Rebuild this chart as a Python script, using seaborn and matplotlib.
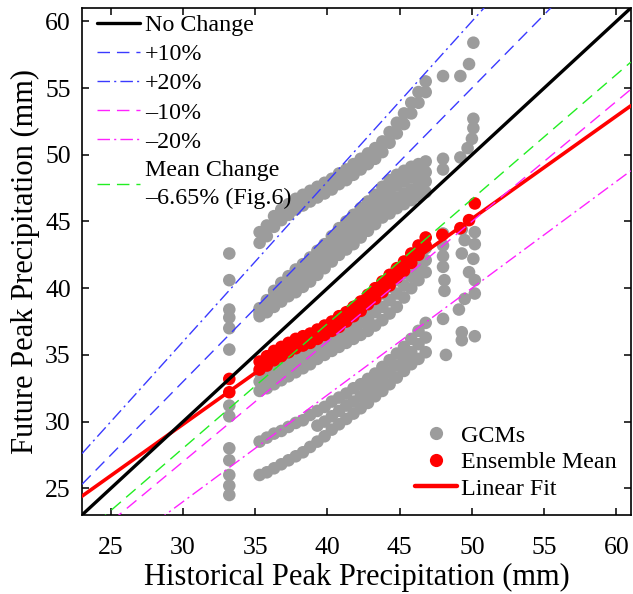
import numpy as np
import pandas as pd
import matplotlib
matplotlib.use('Agg')
import matplotlib.pyplot as plt
from matplotlib.lines import Line2D
import seaborn as sns

sns.set_style('ticks')
plt.rcParams['font.family'] = ['Liberation Serif', 'DejaVu Serif']
for key in ['text.color', 'axes.labelcolor', 'xtick.color', 'ytick.color', 'axes.edgecolor']:
    plt.rcParams[key] = 'black'

# %% data

# historical value grid shared by the GCM bands (mm)
hist_grid = [35.3, 35.8, 36.3, 36.8, 37.3, 37.8, 38.3, 38.8, 39.3, 39.8, 40.3, 40.8,
             41.3, 41.8, 42.3, 42.8, 43.3, 43.8, 44.3, 44.8, 45.3, 45.8, 46.3, 46.8]

# wet GCMs
wet_hi = [44.2, 44.7, 45.4, 45.9, 46.3, 46.7, 47.0, 47.3, 47.6, 47.9, 48.2, 48.6,
          48.9, 49.3, 49.7, 50.1, 50.5, 51.0, 51.7, 52.4, 53.1, 53.9, 54.7, 55.5]
wet_lo = [43.4, 43.9, 44.6, 45.1, 45.5, 45.9, 46.2, 46.5, 46.8, 47.1, 47.4, 47.8,
          48.1, 48.5, 48.9, 49.3, 49.7, 50.2, 50.9, 51.6, 52.3, 53.1, 53.9, 54.7]
# moderate GCMs
mid_1 = [38.5, 39.1, 39.8, 40.4, 40.9, 41.4, 41.8, 42.3, 42.8, 43.3, 43.9, 44.5,
         45.0, 45.5, 46.0, 46.5, 47.0, 47.6, 48.1, 48.5, 48.8, 49.1, 49.3, 49.5]
mid_2 = [38.3, 38.8, 39.4, 39.9, 40.4, 40.8, 41.2, 41.7, 42.2, 42.7, 43.3, 43.8,
         44.3, 44.8, 45.3, 45.8, 46.3, 46.8, 47.3, 47.7, 48.0, 48.3, 48.5, 48.7]
mid_3 = [38.1, 38.5, 39.0, 39.5, 39.9, 40.3, 40.7, 41.1, 41.6, 42.1, 42.6, 43.2,
         43.6, 44.0, 44.5, 45.0, 45.5, 46.1, 46.4, 46.8, 47.1, 47.4, 47.7, 48.0]
mid_4 = [37.9, 38.2, 38.6, 39.0, 39.4, 39.7, 40.1, 40.5, 41.0, 41.5, 42.0, 42.5,
         42.9, 43.3, 43.8, 44.3, 44.8, 45.3, 45.6, 46.0, 46.3, 46.6, 46.9, 47.2]
# dry GCMs
dry_hi = [33.7, 34.0, 34.4, 34.7, 35.0, 35.3, 35.6, 35.8, 36.0, 36.3, 36.6, 37.0,
          37.4, 37.8, 38.2, 38.6, 39.1, 39.6, 40.1, 40.6, 41.1, 41.7, 42.4, 43.0]
dry_mid = [33.0, 33.3, 33.6, 33.9, 34.2, 34.5, 34.8, 35.1, 35.4, 35.7, 36.0, 36.3,
           36.7, 37.0, 37.4, 37.7, 38.2, 38.6, 39.1, 39.6, 40.2, 40.9, 41.5, 42.1]
dry_lo = [32.3, 32.5, 32.8, 33.1, 33.4, 33.7, 34.0, 34.3, 34.7, 35.0, 35.3, 35.6,
          35.9, 36.2, 36.5, 36.8, 37.2, 37.6, 38.1, 38.6, 39.3, 40.0, 40.6, 41.2]
# very dry GCMs
vdry_hi = [28.5, 28.8, 29.1, 29.3, 29.6, 29.9, 30.1, 30.5, 30.8, 31.1, 31.5, 31.8,
           32.1, 32.5, 32.8, 33.2, 33.6, 34.1, 34.6, 35.1, 35.6, 36.2, 36.8, 37.4]
vdry_mid = [None, None, None, None, None, None, None, None, 29.7, 30.0, 30.4, 30.8,
            31.2, 31.5, 31.9, 32.3, 32.8, 33.2, 33.7, 34.2, 34.7, 35.2, 35.8, 36.3]
vdry_lo = [26.0, 26.2, 26.5, 26.8, 27.1, 27.4, 27.7, 28.1, 28.5, 28.9, 29.4, 29.8,
           30.2, 30.6, 31.0, 31.4, 31.9, 32.3, 32.8, 33.3, 33.8, 34.3, 34.7, 35.2]

# single station at 33.2 mm
col33_hist = 33.2
col33_future = [42.6, 40.6, 38.4, 37.8, 37.0, 35.4, 31.2, 30.4, 28.0, 27.1, 26.0, 25.2, 24.5]

# scattered stations on the right
extra_hist = [48.0, 49.2, 49.8, 50.1, 50.1, 50.1, 50.0, 49.7, 49.2, 48.0, 48.0,
              48.0, 48.0, 48.0, 48.0, 48.1, 48.1, 49.3, 49.5, 49.3, 50.2, 50.2, 50.1, 49.8,
              50.2, 50.2, 49.5, 49.1, 48.0, 49.3, 50.2, 49.3, 48.2]
extra_future = [55.9, 55.9, 56.8, 58.4, 52.7, 52.0, 51.2, 50.5, 49.8, 49.7, 48.9,
                44.1, 43.2, 42.4, 41.6, 40.6, 39.8, 44.4, 43.6, 42.6, 44.2, 43.3, 42.2, 41.2,
                40.6, 39.6, 39.2, 38.4, 37.7, 36.7, 36.4, 36.1, 35.0]

# ensemble mean
ens_hi = [34.5, 34.9, 35.3, 35.6, 35.9, 36.2, 36.4, 36.6, 36.9, 37.2, 37.5, 37.9,
          38.2, 38.6, 39.0, 39.5, 40.0, 40.5, 41.0, 41.5, 42.0, 42.6, 43.2, 43.8]
ens_lo = [33.9, 34.2, 34.6, 34.9, 35.2, 35.5, 35.7, 35.9, 36.2, 36.5, 36.8, 37.1,
          37.5, 37.9, 38.3, 38.8, 39.2, 39.7, 40.2, 40.8, 41.3, 41.9, 42.5, 43.2]
ens_extra_hist = [33.2, 33.2, 47.95, 49.2, 49.8, 50.2]
ens_extra_future = [33.2, 32.2, 44.0, 44.5, 45.1, 46.35]

# linear fit of ensemble mean (slope, intercept)
fit_coef = (0.77, 6.7)

# reference change lines
ref_labels = ['No Change', '+10%', '+20%', '\u201310%', '\u201320%', 'Mean Change\n\u20136.65% (Fig.6)']
ref_factors = [1.0, 1.10, 1.20, 0.90, 0.80, 1 - 0.0665]

# %% frames

gcm_bands = [wet_hi, wet_lo, mid_1, mid_2, mid_3, mid_4, dry_hi, dry_mid, dry_lo,
             vdry_hi, vdry_mid, vdry_lo]
parts = [pd.DataFrame({'hist': hist_grid, 'future': b}) for b in gcm_bands]
parts.append(pd.DataFrame({'hist': col33_hist, 'future': col33_future}))
parts.append(pd.DataFrame({'hist': extra_hist, 'future': extra_future}))
gcm = pd.concat(parts, ignore_index=True).astype(float).dropna()

ens = pd.concat([pd.DataFrame({'hist': hist_grid, 'future': ens_hi}),
                 pd.DataFrame({'hist': hist_grid, 'future': ens_lo}),
                 pd.DataFrame({'hist': ens_extra_hist, 'future': ens_extra_future})],
                ignore_index=True)

# %% plot

xlim = (23, 61)
ylim = (23, 61)

fig = plt.figure(figsize=(6.33, 5.94), dpi=100)
ax = fig.add_axes([0.1295, 0.133, 0.867, 0.8535])

gray = '#9c9c9c'
sns.scatterplot(data=gcm, x='hist', y='future', color=gray, s=82, edgecolor='none',
                linewidth=0, ax=ax, legend=False, zorder=2)
sns.scatterplot(data=ens, x='hist', y='future', color='red', s=82, edgecolor='none',
                linewidth=0, ax=ax, legend=False, zorder=3)

line_x = np.array(xlim, dtype=float)
fit_line, = ax.plot(line_x, fit_coef[0] * line_x + fit_coef[1], color='red', lw=2.6, zorder=4)

ref_styles = [
    dict(color='black', lw=2.4, ls='-'),
    dict(color='#3a3aff', lw=1.0, dashes=(9, 5)),
    dict(color='#3a3aff', lw=1.0, dashes=(9, 3, 1.5, 3)),
    dict(color='#ff22ff', lw=1.0, dashes=(9, 5)),
    dict(color='#ff22ff', lw=1.0, dashes=(9, 3, 1.5, 3)),
    dict(color='#22ee22', lw=1.0, dashes=(9, 5)),
]
ref_handles = []
for lab, k, st in zip(ref_labels, ref_factors, ref_styles):
    h, = ax.plot(line_x, k * line_x, label=lab, zorder=6 if k == 1.0 else 5, **st)
    ref_handles.append(h)

ax.set_xlim(*xlim)
ax.set_ylim(*ylim)
ax.set_xticks(np.arange(25, 61, 5))
ax.set_yticks(np.arange(25, 61, 5))
ax.tick_params(direction='in', top=True, right=True, length=5, width=1.1, labelsize=18.5)
ax.tick_params(axis='x', pad=16)
ax.tick_params(axis='y', pad=8)
for sp in ax.spines.values():
    sp.set_linewidth(1.2)
ax.set_xlabel('Historical Peak Precipitation (mm)', fontsize=22, labelpad=3)
ax.set_ylabel('Future Peak Precipitation (mm)', fontsize=22, labelpad=4)

leg1 = ax.legend(handles=ref_handles, labels=ref_labels, loc='upper left', frameon=False,
                 fontsize=17.3, handlelength=1.8, handletextpad=0.2, labelspacing=0.3,
                 borderaxespad=0.0, borderpad=0.0, bbox_to_anchor=(0.027, 0.987))
leg1.get_texts()[-1].set_linespacing(1.45)
ax.add_artist(leg1)

gcm_h = Line2D([], [], ls='none', marker='o', markersize=9.5, color=gray, markeredgewidth=0)
ens_h = Line2D([], [], ls='none', marker='o', markersize=9.5, color='red', markeredgewidth=0)
fit_h = Line2D([], [], color='red', lw=3.2)
ax.legend(handles=[gcm_h, ens_h, fit_h], labels=['GCMs', 'Ensemble Mean', 'Linear Fit'],
          loc='lower left', frameon=False, fontsize=17.3, handlelength=1.75,
          handletextpad=0.2, labelspacing=0.2, borderaxespad=0.0, borderpad=0.0,
          bbox_to_anchor=(0.606, 0.03))

fig.savefig('out.png', dpi=100)
